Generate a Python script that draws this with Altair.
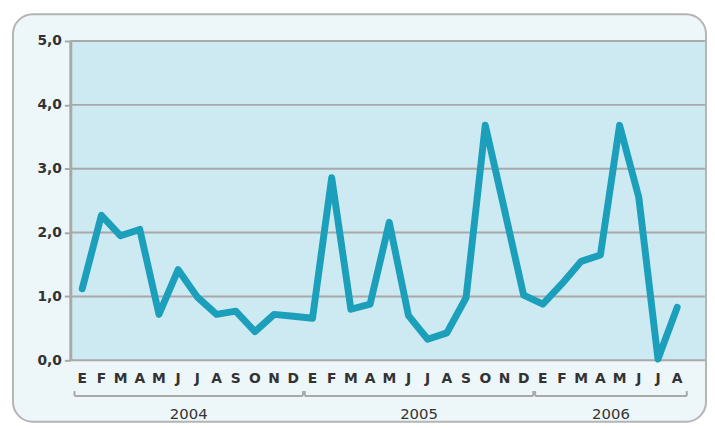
import altair as alt
import pandas as pd

months = ["E", "F", "M", "A", "M", "J", "J", "A", "S", "O", "N", "D"] * 2 + \
         ["E", "F", "M", "A", "M", "J", "J", "A"]
values = [1.12, 2.27, 1.95, 2.05, 0.72, 1.42, 0.99, 0.72, 0.77, 0.45, 0.72, 0.69,
          0.66, 2.86, 0.80, 0.88, 2.16, 0.70, 0.33, 0.43, 0.98, 3.68, 2.36, 1.02,
          0.88, 1.20, 1.55, 1.65, 3.68, 2.55, 0.02, 0.83]
years = ["2004", "2005", "2006"]
year_first = [0, 12, 24]
year_last = [11, 23, 31]
y_ticks = [0, 1, 2, 3, 4, 5]

df = pd.DataFrame({"idx": list(range(len(values))), "month": months, "value": values})
ydf = pd.DataFrame({"year": years, "first": year_first, "last": year_last})
gdf = pd.DataFrame({"tick": y_ticks})

GRAY = "#a9a9a9"
TXT = "#333333"

xscale = alt.Scale(domain=[-0.62, 32.45], nice=False, zero=False)
yscale = alt.Scale(domain=[0, 5], nice=False)
yaxis = alt.Axis(values=y_ticks, title=None, grid=False, zindex=1,
                 labelExpr="replace(format(datum.value, '.1f'), '.', ',')",
                 labelFontWeight="bold", labelFontSize=14, labelColor=TXT,
                 labelFont="DejaVu Sans", labelPadding=3,
                 tickSize=6, tickColor=GRAY, tickWidth=2,
                 domainColor=GRAY, domainWidth=3)

frame = alt.Chart(alt.Data(values=[{"frame": 1}])).mark_rect(
    fill="#edf6f9", stroke="#b4b4b4", strokeWidth=2, cornerRadius=20
).encode(
    x=alt.value(-58), x2=alt.value(643), y=alt.value(-27), y2=alt.value(385)
)

plot_bg = alt.Chart(alt.Data(values=[{"frame": 1}])).mark_rect(
    fill="#cde9f1"
).encode(
    x=alt.value(0), x2=alt.value(642), y=alt.value(0), y2=alt.value(323)
)

grid = alt.Chart(gdf).mark_rule(color=GRAY, strokeWidth=2).encode(
    y=alt.Y("tick:Q", scale=yscale, axis=yaxis),
    x=alt.value(0), x2=alt.value(642)
)

line = alt.Chart(df).mark_line(
    color="#1b9fba", strokeWidth=7, strokeJoin="round", strokeCap="round"
).encode(
    x=alt.X("idx:Q", scale=xscale, axis=None),
    y=alt.Y("value:Q", scale=yscale, axis=yaxis),
)

month_text = alt.Chart(df).mark_text(
    fontSize=14, fontWeight="bold", font="DejaVu Sans", color=TXT,
    baseline="middle", align="center"
).encode(
    x=alt.X("idx:Q", scale=xscale, axis=None), y=alt.value(342), text="month:N"
)

brk = alt.Chart(ydf).transform_calculate(
    x0="datum.first - 0.4", x1="datum.last + 0.5", mid="(datum.first + datum.last + 0.1) / 2"
)

bracket = brk.mark_rule(color=GRAY, strokeWidth=2).encode(
    x=alt.X("x0:Q", scale=xscale, axis=None), x2="x1:Q", y=alt.value(359)
)
tick_l = brk.mark_rule(color=GRAY, strokeWidth=2).encode(
    x=alt.X("x0:Q", scale=xscale, axis=None), y=alt.value(354), y2=alt.value(359)
)
tick_r = brk.mark_rule(color=GRAY, strokeWidth=2).encode(
    x=alt.X("x1:Q", scale=xscale, axis=None), y=alt.value(354), y2=alt.value(359)
)
year_text = brk.mark_text(
    fontSize=15, font="DejaVu Sans", color=TXT, baseline="middle", align="center"
).encode(
    x=alt.X("mid:Q", scale=xscale, axis=None), y=alt.value(377), text="year:N"
)

chart = alt.layer(frame, plot_bg, grid, line, month_text, bracket, tick_l, tick_r,
                  year_text).properties(
    width=642, height=323,
    autosize=alt.AutoSizeParams(type="none"),
    padding={"left": 63, "top": 31, "right": 2, "bottom": 62},
    background="white",
).configure(
    font="DejaVu Sans",
    view=alt.ViewConfig(stroke="transparent"),
)

chart.save("out.html", embed_options={"renderer": "svg", "actions": False})
